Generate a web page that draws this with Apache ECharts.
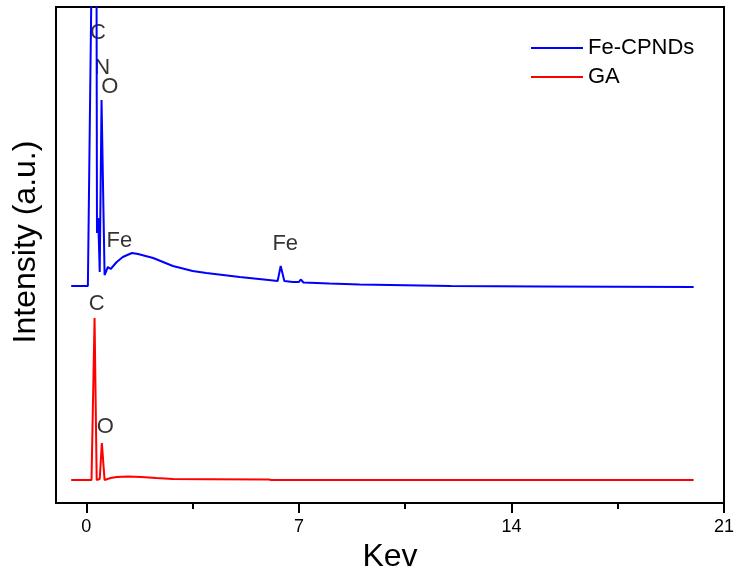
<!DOCTYPE html>
<html lang="en">
<head>
  <meta charset="UTF-8">
  <title>EDS</title>
  <script src="https://cdn.jsdelivr.net/npm/echarts@6/dist/echarts.min.js"></script>
</head>
<body style="margin:0">
<div id="main" style="width: 738px; height: 578px"></div>
<script>

  // spectra: [keV, intensity (arbitrary)]
  var feCpnds = [
    [-0.5, 217], [0.05, 217], [0.11, 219], [0.2, 600], [0.33, 600], [0.35, 270],
    [0.39, 285], [0.44, 231], [0.5, 403], [0.6, 228], [0.71, 236], [0.8, 234],
    [1.0, 241], [1.2, 246], [1.5, 250], [1.7, 249], [2.2, 245], [2.85, 237],
    [3.5, 232], [3.95, 230], [5.05, 226], [6.0, 223], [6.3, 222], [6.4, 237],
    [6.52, 222], [6.8, 221], [7.0, 221], [7.06, 223.5], [7.15, 220.5], [8, 219.5],
    [9, 218.5], [10, 218], [12, 217], [15, 216.5], [20, 216]
  ];
  var ga = [
    [-0.5, 23], [0.17, 23], [0.27, 185], [0.34, 23], [0.38, 23], [0.44, 24],
    [0.51, 60], [0.6, 23], [0.8, 25], [1.0, 26], [1.37, 26.5], [1.8, 26],
    [2.3, 25], [2.85, 24], [4, 23.8], [6, 23.5], [6.1, 23], [10, 23], [20, 23]
  ];
  // element labels: [keV, intensity, text]
  var feLabels = [[0.38, 470, 'C'], [0.52, 435, 'N'], [0.77, 416, 'O'], [1.09, 262, 'Fe'], [6.55, 259, 'Fe']];
  var gaLabels = [[0.34, 199, 'C'], [0.62, 76, 'O']];
  var majorTicks = [0, 7, 14, 21];
  var minorTicks = [3.5, 10.5, 17.5];

  var font = 'Arial, "Liberation Sans", sans-serif';
  var chart = echarts.init(document.getElementById('main'));

  function labelSeries(items) {
    return {
      type: 'scatter',
      symbolSize: 0,
      silent: true,
      data: items.map(function (d) { return { value: [d[0], d[1]], name: d[2] }; }),
      label: {
        show: true, position: 'inside', formatter: '{b}',
        color: '#000', fontSize: 22, fontFamily: font
      }
    };
  }

  var option = {
    animation: false,
    backgroundColor: '#fff',
    grid: {
      left: 56, right: 14, top: 7, bottom: 75,
      show: true, borderColor: '#000', borderWidth: 2
    },
    legend: {
      data: ['Fe-CPNDs', 'GA'],
      orient: 'vertical',
      left: 526, top: 32,
      icon: 'rect',
      itemWidth: 52, itemHeight: 2, itemGap: 7,
      textStyle: { fontSize: 22, lineHeight: 21, fontFamily: font, color: '#000' }
    },
    xAxis: [
      {
        type: 'value', min: -1, max: 21,
        name: 'Kev', nameLocation: 'middle', nameGap: 34,
        nameTextStyle: { fontSize: 32, fontFamily: font, color: '#000' },
        axisLine: { onZero: false, lineStyle: { color: '#000', width: 2 } },
        axisTick: { customValues: majorTicks, length: 10, lineStyle: { color: '#000', width: 2 } },
        axisLabel: { customValues: majorTicks, margin: 15, fontSize: 18, fontFamily: font, color: '#000' },
        splitLine: { show: false }
      },
      {
        type: 'value', min: -1, max: 21, position: 'bottom',
        axisLine: { show: false, onZero: false },
        axisTick: { show: true, customValues: minorTicks, length: 6, lineStyle: { color: '#000', width: 2 } },
        axisLabel: { show: false },
        splitLine: { show: false }
      }
    ],
    yAxis: {
      type: 'value', min: 0, max: 496,
      name: 'Intensity (a.u.)', nameLocation: 'middle', nameGap: 14,
      nameTextStyle: { fontSize: 32, fontFamily: font, color: '#000', padding: [0, 0, 0, 26] },
      axisLine: { show: true, onZero: false, lineStyle: { color: '#000', width: 2 } },
      axisTick: { show: false },
      axisLabel: { show: false },
      splitLine: { show: false }
    },
    series: [
      {
        name: 'Fe-CPNDs', type: 'line', data: feCpnds,
        symbol: 'none', clip: true,
        lineStyle: { color: '#0000ff', width: 2 }, itemStyle: { color: '#0000ff' }
      },
      {
        name: 'GA', type: 'line', data: ga,
        symbol: 'none', clip: true,
        lineStyle: { color: '#ff0000', width: 2 }, itemStyle: { color: '#ff0000' }
      },
      labelSeries(feLabels),
      labelSeries(gaLabels)
    ]
  };
  chart.setOption(option);

</script>
</body>
</html>
